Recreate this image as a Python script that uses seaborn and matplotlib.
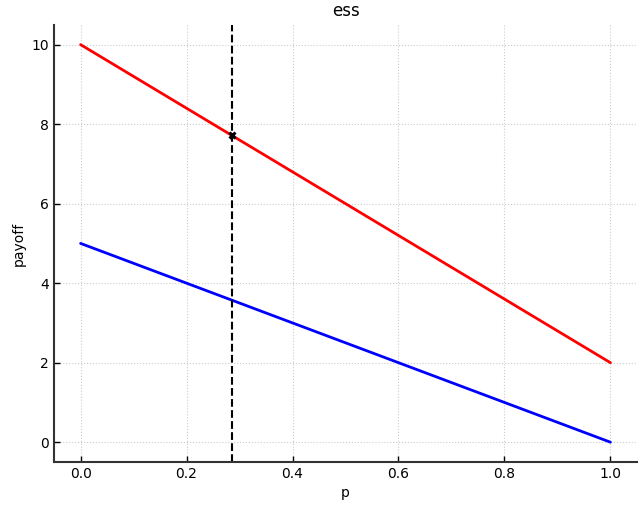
import numpy as np
import pandas as pd
import matplotlib
matplotlib.use("Agg")
import matplotlib.pyplot as plt
import seaborn as sns

# payoff lines over p
p = [0.0, 1.0]
payoff_red = [10.0, 2.0]
payoff_blue = [5.0, 0.0]
ess_p = 2 / 7
ess_payoff = 10 - 8 * ess_p

sns.set_style("whitegrid", {"grid.linestyle": ":", "grid.color": "#cccccc",
                            "xtick.direction": "in", "ytick.direction": "in",
                            "axes.edgecolor": "black", "text.color": "black",
                            "axes.labelcolor": "black",
                            "xtick.color": "black", "ytick.color": "black"})

fig = plt.figure(figsize=(6.44, 5.05), dpi=100)
ax = fig.add_axes([0.084, 0.085, 0.905, 0.866])

df = pd.DataFrame({"p": p, "red": payoff_red, "blue": payoff_blue})
sns.lineplot(data=df, x="p", y="red", color="red", linewidth=2, ax=ax)
sns.lineplot(data=df, x="p", y="blue", color="blue", linewidth=2, ax=ax)
ax.axvline(ess_p, color="black", linestyle="--", linewidth=1.5)
ax.plot([ess_p], [ess_payoff], marker="x", color="black", markersize=5, mew=2.2)

ax.set_title("ess", fontsize=12)
ax.set_xlabel("p")
ax.set_ylabel("payoff")
ax.set_yticks([0, 2, 4, 6, 8, 10])
ax.set_xticks([0.0, 0.2, 0.4, 0.6, 0.8, 1.0])
ax.tick_params(direction="in", length=4, width=1, left=True, bottom=True)
for s in ["top", "right"]:
    ax.spines[s].set_visible(False)
for s in ["left", "bottom"]:
    ax.spines[s].set_linewidth(1.5)
    ax.spines[s].set_color("#333333")

fig.savefig("out.png", dpi=100)
